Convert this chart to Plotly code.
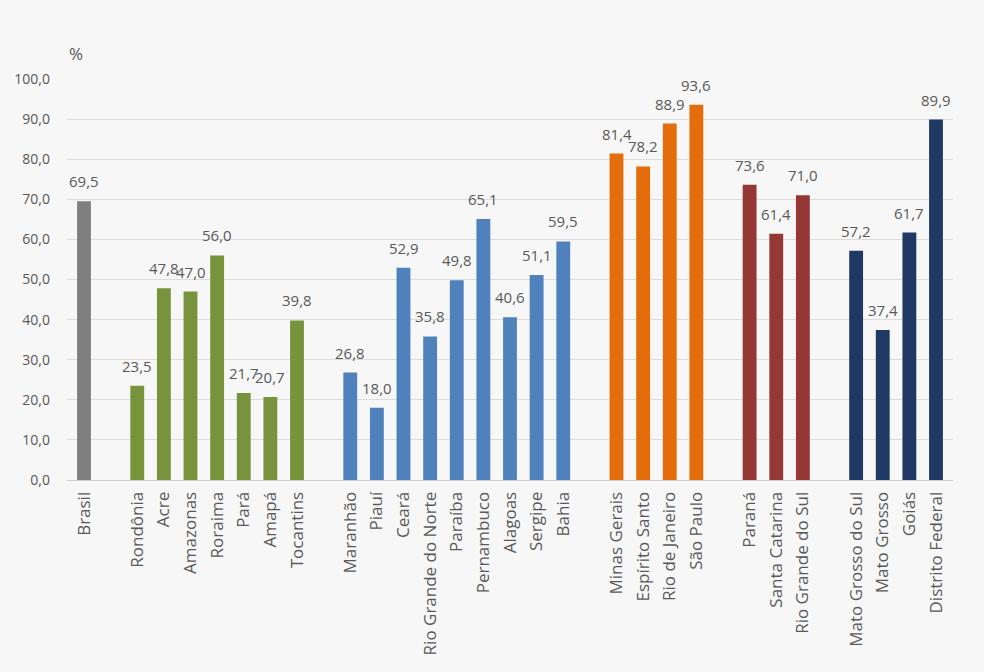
import plotly.graph_objects as go

brasil = ["Brasil"]
brasil_vals = [69.5]
norte = ["Rondônia", "Acre", "Amazonas", "Roraima", "Pará", "Amapá", "Tocantins"]
norte_vals = [23.5, 47.8, 47.0, 56.0, 21.7, 20.7, 39.8]
nordeste = ["Maranhão", "Piauí", "Ceará", "Rio Grande do Norte", "Paraíba",
            "Pernambuco", "Alagoas", "Sergipe", "Bahia"]
nordeste_vals = [26.8, 18.0, 52.9, 35.8, 49.8, 65.1, 40.6, 51.1, 59.5]
sudeste = ["Minas Gerais", "Espírito Santo", "Rio de Janeiro", "São Paulo"]
sudeste_vals = [81.4, 78.2, 88.9, 93.6]
sul = ["Paraná", "Santa Catarina", "Rio Grande do Sul"]
sul_vals = [73.6, 61.4, 71.0]
centro = ["Mato Grosso do Sul", "Mato Grosso", "Goiás", "Distrito Federal"]
centro_vals = [57.2, 37.4, 61.7, 89.9]

groups = [
    (brasil, brasil_vals, "#7f7f7f"),
    (norte, norte_vals, "#77933c"),
    (nordeste, nordeste_vals, "#4f81bd"),
    (sudeste, sudeste_vals, "#e46c0a"),
    (sul, sul_vals, "#953735"),
    (centro, centro_vals, "#1f3864"),
]

cats, vals, cols = [], [], []
for gi, (names, values, color) in enumerate(groups):
    if gi > 0:
        cats.append(" " * gi)
        vals.append(None)
        cols.append(color)
    for n, v in zip(names, values):
        cats.append(n)
        vals.append(v)
        cols.append(color)

fig = go.Figure(go.Bar(
    x=cats, y=vals, marker=dict(color=cols, line=dict(width=0)),
    width=0.52, hoverinfo="x+y",
))

annotations = []
for c, v in zip(cats, vals):
    if v is None:
        continue
    annotations.append(dict(
        x=c, y=v, xref="x", yref="y", text=f"{v:.1f}".replace(".", ","),
        showarrow=False, yanchor="bottom", xanchor="center", yshift=8,
        font=dict(size=15, color="#595959")))

annotations.append(dict(text="%", xref="paper", yref="paper", x=0.0, y=1.0,
                        xanchor="left", yanchor="bottom", yshift=12, showarrow=False,
                        font=dict(size=17, color="#595959")))

font = "Open Sans, Noto Sans, sans-serif"
fig.update_layout(
    width=984, height=672,
    margin=dict(l=67, r=31, t=79, b=192),
    paper_bgcolor="#f7f7f7", plot_bgcolor="#f7f7f7",
    font=dict(family=font, size=15, color="#595959"),
    separators=",.",
    showlegend=False,
    bargap=0.48,
    annotations=annotations,
    xaxis=dict(type="category", categoryorder="array", categoryarray=cats,
               tickangle=-90, showline=True, linecolor="#d0d0d0", linewidth=1,
               ticks="", tickfont=dict(size=17, color="#595959"), showgrid=False,
               ticklabelstandoff=4, automargin=False),
    yaxis=dict(range=[0, 100], dtick=10, tickformat=".1f", showgrid=True,
               gridcolor="#dcdcdc", gridwidth=1, zeroline=False, ticks="",
               tickfont=dict(size=14, color="#595959"), ticklabelstandoff=16,
               automargin=False),
)

fig.write_html("out.html")
